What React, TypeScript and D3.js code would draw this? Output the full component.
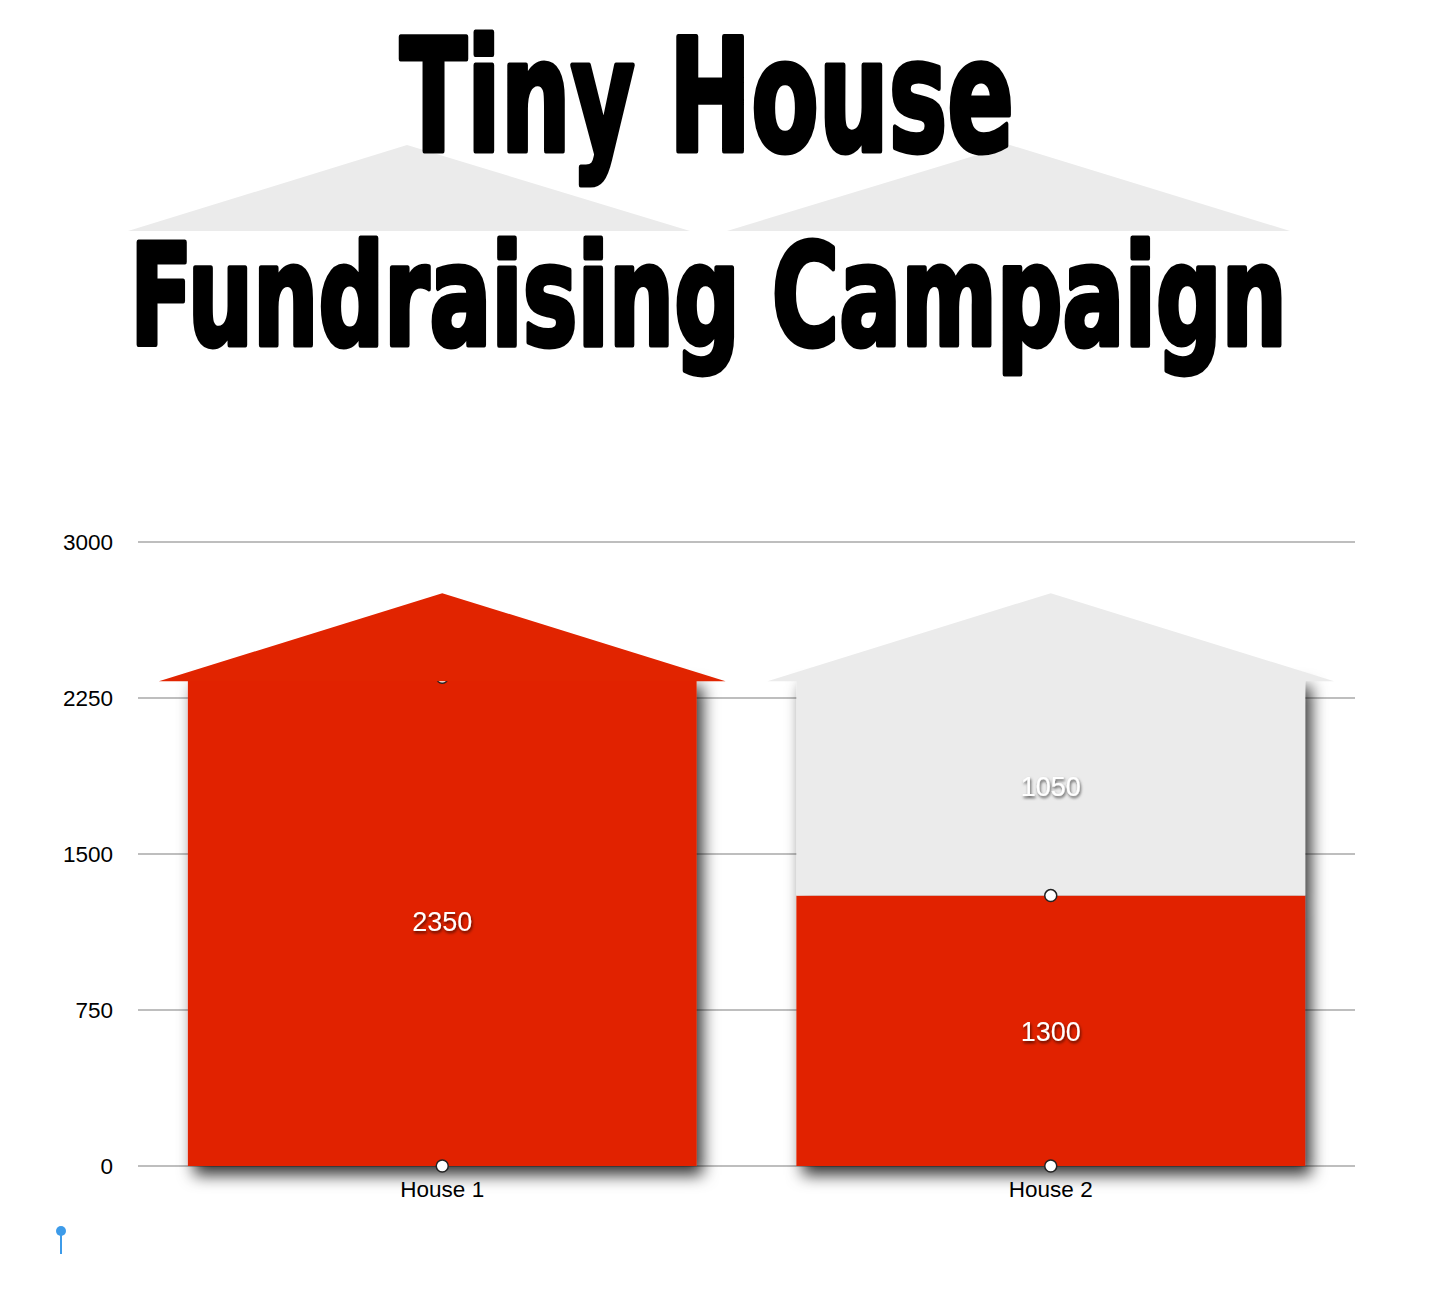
import React from 'react';
import * as d3 from 'd3';

// chart data
const houses = ['House 1', 'House 2'];
const raised = [2350, 1300];
const remaining = [0, 1050];
const yTicks = [0, 750, 1500, 2250, 3000];

const RED = '#e12400';
const GREY = '#ebebeb';
const W = 1436;
const H = 1298;

export default function App() {
  const x = d3
    .scaleBand<string>()
    .domain(houses)
    .range([138, 1355])
    .paddingInner(0.164)
    .paddingOuter(0.082);
  const y = d3.scaleLinear().domain([0, 3000]).range([1166, 542]);

  const rows = houses.map((h, i) => ({ house: h, raised: raised[i], remaining: remaining[i] }));
  const series = d3.stack<any>().keys(['raised', 'remaining'])(rows);
  const fill = (key: string) => (key === 'raised' ? RED : GREY);

  const bw = x.bandwidth();
  const axisFont = '"Liberation Sans", Arial, Helvetica, sans-serif';
  const titleFont = '"DejaVu Sans Condensed", "Liberation Sans Narrow", sans-serif';

  return (
    <div style={{ position: 'absolute', left: 0, top: 0 }}>
      <svg width={W} height={H} style={{ display: 'block', background: '#fff' }}>
        <defs>
          <filter id="barShadow" x="-10%" y="-10%" width="130%" height="130%">
            <feDropShadow dx="6" dy="9" stdDeviation="8" floodColor="#000" floodOpacity="0.8" />
          </filter>
          <filter id="textShadow" x="-20%" y="-40%" width="140%" height="180%">
            <feDropShadow dx="1" dy="2" stdDeviation="1.6" floodColor="#000" floodOpacity="0.65" />
          </filter>
        </defs>

        {/* title roofs */}
        <polygon points="128,231 407,145 690,231" fill={GREY} />
        <polygon points="727,231 1010,145 1290,231" fill={GREY} />

        {/* title */}
        <g fontFamily={titleFont} fontWeight="bold" fill="#000" stroke="#000" strokeWidth={5} strokeLinejoin="round">
          <text x={400} y={151} fontSize={156} textLength={614} lengthAdjust="spacingAndGlyphs">
            Tiny House
          </text>
          <text x={130} y={345} fontSize={140} textLength={1157} lengthAdjust="spacingAndGlyphs">
            Fundraising Campaign
          </text>
        </g>

        {/* gridlines */}
        {yTicks.map((t) => (
          <g key={t}>
            <line x1={138} x2={1355} y1={y(t)} y2={y(t)} stroke="#a8a8a8" strokeWidth={1.6} />
            <text
              x={113}
              y={y(t)}
              dy="0.36em"
              textAnchor="end"
              fontFamily={axisFont}
              fontSize={22.5}
              fill="#000"
            >
              {t}
            </text>
          </g>
        ))}

        {/* stacked bars */}
        <g filter="url(#barShadow)">
          {series.map((s) =>
            s.map((d, i) => (
              <rect
                key={s.key + i}
                x={x(houses[i])}
                y={y(d[1])}
                width={bw}
                height={Math.max(0, y(d[0]) - y(d[1]))}
                fill={fill(s.key)}
              />
            ))
          )}
        </g>

        {/* markers at segment bases */}
        {series.map((s) =>
          s.map((d, i) => (
            <circle
              key={'m' + s.key + i}
              cx={(x(houses[i]) as number) + bw / 2}
              cy={y(d[0])}
              r={6}
              fill="#fff"
              stroke="#222"
              strokeWidth={1.5}
            />
          ))
        )}

        {/* roofs */}
        {houses.map((h, i) => {
          const x0 = x(h) as number;
          const top = y(raised[i] + remaining[i]);
          const pts = [
            [x0 - 29, top + 4],
            [x0 + bw / 2, top - 84],
            [x0 + bw + 29, top + 4],
          ];
          return (
            <polygon
              key={'roof' + h}
              points={pts.map((p) => p.join(',')).join(' ')}
              fill={remaining[i] > 0 ? GREY : RED}
            />
          );
        })}

        {/* value labels */}
        <g filter="url(#textShadow)">
          {series.map((s) =>
            s.map((d, i) =>
              d[1] - d[0] > 0 ? (
                <text
                  key={'l' + s.key + i}
                  x={(x(houses[i]) as number) + bw / 2}
                  y={(y(d[0]) + y(d[1])) / 2}
                  dy="0.36em"
                  textAnchor="middle"
                  fontFamily={axisFont}
                  fontSize={27}
                  fill="#fff"
                >
                  {d[1] - d[0]}
                </text>
              ) : null
            )
          )}
        </g>

        {/* x labels */}
        {houses.map((h) => (
          <text
            key={'x' + h}
            x={(x(h) as number) + bw / 2}
            y={1197}
            textAnchor="middle"
            fontFamily={axisFont}
            fontSize={22.5}
            fill="#000"
          >
            {h}
          </text>
        ))}

        {/* pin */}
        <line x1={61} x2={61} y1={1231} y2={1254} stroke="#3d9be9" strokeWidth={2} />
        <circle cx={61} cy={1231} r={5} fill="#3d9be9" />
      </svg>
    </div>
  );
}
